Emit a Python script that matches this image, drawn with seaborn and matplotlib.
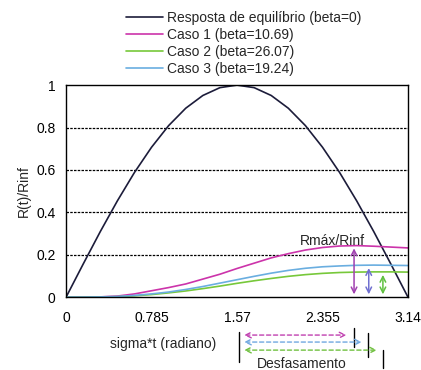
import numpy as np
import pandas as pd
import seaborn as sns
import matplotlib.pyplot as plt

# valores
sigma_t = [0.0, 0.157, 0.314, 0.471, 0.628, 0.785, 0.942, 1.099, 1.256, 1.413, 1.57,
           1.727, 1.884, 2.041, 2.198, 2.355, 2.512, 2.669, 2.826, 2.983, 3.14]
equilibrio = [0.0, 0.156, 0.309, 0.454, 0.588, 0.707, 0.809, 0.891, 0.951, 0.988, 1.0,
              0.988, 0.951, 0.891, 0.809, 0.707, 0.588, 0.454, 0.309, 0.156, 0.0]
caso1 = [0.0, 0.0, 0.001, 0.005, 0.015, 0.030, 0.045, 0.062, 0.085, 0.108, 0.135,
         0.160, 0.185, 0.205, 0.222, 0.234, 0.241, 0.243, 0.240, 0.236, 0.232]
caso2 = [0.0, 0.0, 0.001, 0.002, 0.006, 0.012, 0.020, 0.029, 0.040, 0.052, 0.065,
         0.077, 0.088, 0.098, 0.106, 0.112, 0.116, 0.118, 0.119, 0.119, 0.118]
caso3 = [0.0, 0.0, 0.001, 0.003, 0.008, 0.015, 0.024, 0.036, 0.050, 0.066, 0.082,
         0.098, 0.113, 0.126, 0.136, 0.143, 0.147, 0.150, 0.151, 0.150, 0.149]

nomes = ['Resposta de equilíbrio (beta=0)', 'Caso 1 (beta=10.69)',
         'Caso 2 (beta=26.07)', 'Caso 3 (beta=19.24)']
cores = ['#1c1c3a', '#cc33aa', '#77c83a', '#6aaee0']

xticks = [0, 0.785, 1.57, 2.355, 3.14]
xtick_labels = ['0', '0.785', '1.57', '2.355', '3.14']
yticks = [0, 0.2, 0.4, 0.6, 0.8, 1]
ytick_labels = ['0', '0.2', '0.4', '0.6', '0.8', '1']

df = pd.DataFrame({'sigma_t': sigma_t, nomes[0]: equilibrio, nomes[1]: caso1,
                   nomes[2]: caso2, nomes[3]: caso3})
df_long = df.melt(id_vars='sigma_t', var_name='serie', value_name='R')

sns.set_style('white')
plt.rcParams['font.family'] = ['Liberation Sans', 'DejaVu Sans']
plt.rcParams['font.size'] = 10

fig = plt.figure(figsize=(4.21, 3.70), dpi=100)
ax = fig.add_axes([0.157, 0.197, 0.812, 0.573])

sns.lineplot(data=df_long, x='sigma_t', y='R', hue='serie', hue_order=nomes,
             palette=cores, ax=ax, linewidth=1.2, legend=False)

ax.set_xlim(0, 3.14)
ax.set_ylim(0, 1)
ax.set_xticks(xticks)
ax.set_xticklabels(xtick_labels)
ax.set_yticks(yticks)
ax.set_yticklabels(ytick_labels)
ax.tick_params(axis='both', direction='out', length=4, width=1, colors='black', labelsize=10)
ax.tick_params(axis='x', pad=6)
for g in [0.2, 0.4, 0.6, 0.8]:
    ax.axhline(g, color='black', linestyle=(0, (2, 1)), linewidth=0.9, zorder=0)
for s in ax.spines.values():
    s.set_color('black')
    s.set_linewidth(1.0)

ax.set_xlabel('sigma*t (radiano)')
ax.xaxis.set_label_coords(0.284, -0.19)
ax.set_ylabel('R(t)/Rinf')

# setas verticais Rmax/Rinf
ax.annotate('', xy=(2.645, 0), xytext=(2.645, 0.243),
            arrowprops=dict(arrowstyle='<->', color='#a040b0', lw=1.1))
ax.annotate('', xy=(2.78, 0), xytext=(2.78, 0.150),
            arrowprops=dict(arrowstyle='<->', color='#7070d0', lw=1.1))
ax.annotate('', xy=(2.91, 0), xytext=(2.91, 0.118),
            arrowprops=dict(arrowstyle='<->', color='#60c040', lw=1.1))
ax.text(2.45, 0.264, 'Rmáx/Rinf', ha='center', va='center', fontsize=10)

# desfasamento
for xb, y0, y1 in [(1.59, -0.165, -0.307), (2.645, -0.146, -0.236),
                   (2.775, -0.17, -0.283), (2.91, -0.250, -0.335)]:
    ax.plot([xb, xb], [y0, y1], color='black', lw=1.0, clip_on=False)
for x1, yy, c in [(2.6, -0.179, '#c040b0'), (2.74, -0.212, '#70a8e0'), (2.88, -0.25, '#70c040')]:
    ax.annotate('', xy=(x1, yy), xytext=(1.61, yy), annotation_clip=False,
                arrowprops=dict(arrowstyle='<->', color=c, lw=1.0, linestyle=(0, (3, 2))))
ax.text(2.16, -0.316, 'Desfasamento', ha='center', va='center', fontsize=10)

handles = [plt.Line2D([], [], color=c, lw=1.2) for c in cores]
fig.legend(handles, nomes, loc='upper left', bbox_to_anchor=(0.279, 0.992),
           frameon=False, handlelength=2.66, labelspacing=0.2, handletextpad=0.3,
           fontsize=10, borderaxespad=0.2)

fig.savefig('out.png', dpi=100)
